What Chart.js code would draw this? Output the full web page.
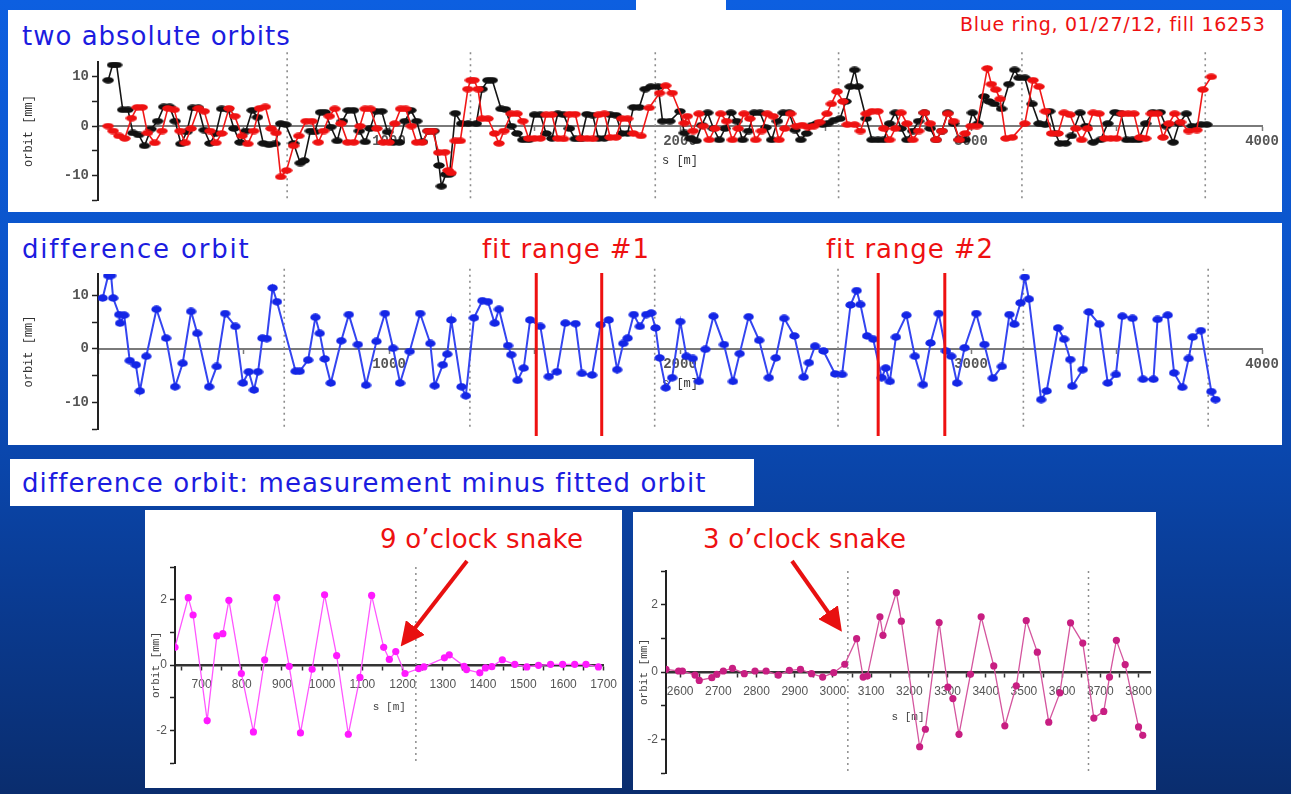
<!DOCTYPE html>
<html><head><meta charset="utf-8">
<script src="https://cdn.jsdelivr.net/npm/chart.js@4.4.1/dist/chart.umd.min.js"></script>
<style>
html,body{margin:0;padding:0;width:1291px;height:794px;overflow:hidden;}
body{position:relative;background:linear-gradient(to bottom,#0d5fe0 0%,#0b55cc 30%,#0a48b0 55%,#0a3b92 75%,#0a2d6e 100%);font-family:'Comic Sans MS','DejaVu Sans',sans-serif;}
.panel{position:absolute;background:#fff;}
.t{position:absolute;white-space:nowrap;line-height:1;}
canvas{position:absolute;}
svg{position:absolute;left:0;top:0;}
</style></head><body>
<div class="panel" style="left:636px;top:0;width:90px;height:12px;"></div>
<div class="panel" style="left:8px;top:10px;width:1274px;height:202px;"></div>
<div class="panel" style="left:8px;top:223px;width:1274px;height:222px;"></div>
<div class="panel" style="left:10px;top:459px;width:744px;height:47px;"></div>
<div class="panel" style="left:145px;top:510px;width:477px;height:278px;"></div>
<div class="panel" style="left:633px;top:512px;width:523px;height:278px;"></div>

<div class="t" style="left:22px;top:23px;font-size:26px;letter-spacing:1px;color:#1c1ce0;">two absolute orbits</div>
<div class="t" style="left:960px;top:15px;font-size:19px;letter-spacing:0.7px;color:#ee1111;">Blue ring, 01/27/12, fill 16253</div>
<div class="t" style="left:22px;top:236px;font-size:26px;letter-spacing:1.8px;color:#1c1ce0;">difference orbit</div>
<div class="t" style="left:482px;top:236px;font-size:26px;letter-spacing:0.9px;color:#ee1111;">fit range #1</div>
<div class="t" style="left:826px;top:236px;font-size:26px;letter-spacing:0.9px;color:#ee1111;">fit range #2</div>
<div class="t" style="left:22px;top:470px;font-size:26px;letter-spacing:1.1px;color:#1c1ce0;">difference orbit: measurement minus fitted orbit</div>
<div class="t" style="left:380px;top:526px;font-size:26px;letter-spacing:0.2px;color:#ee1111;">9 o’clock snake</div>
<div class="t" style="left:703px;top:526px;font-size:26px;letter-spacing:0.2px;color:#ee1111;">3 o’clock snake</div>

<canvas id="c1"></canvas>
<canvas id="c2"></canvas>
<canvas id="c3"></canvas>
<canvas id="c4"></canvas>

<svg width="1291" height="794">
<defs><marker id="ah" markerWidth="6" markerHeight="6" refX="3" refY="3" orient="auto" markerUnits="strokeWidth"><path d="M0,0 L6,3 L0,6 z" fill="#e81010"/></marker></defs>
<line x1="467" y1="561" x2="408" y2="637" stroke="#e81010" stroke-width="4" marker-end="url(#ah)"/>
<line x1="792" y1="561" x2="835" y2="622" stroke="#e81010" stroke-width="4" marker-end="url(#ah)"/>
</svg>

<script>
// ---------------- data (s [m], orbit [mm]) ----------------
const topBlack = [[35,9.3],[50,12.4],[64,12.4],[85,3.3],[103,3.3],[120,-1.4],[140,-1.8],[160,-4.0],[182,-0.6],[205,1.0],[226,3.9],[246,3.9],[265,1.0],[285,-3.6],[305,-1.2],[325,3.7],[345,3.7],[365,-0.8],[385,-3.5],[405,-1.5],[425,3.5],[447,3.4],[467,-0.5],[488,-3.3],[508,-1.0],[530,3.2],[548,1.8],[568,-3.5],[588,-3.8],[608,-3.6],[628,0.5],[645,0.3],
[672,-3.5],[695,-7.5],[708,-7.0],[730,-1.0],[745,-1.2],[765,2.8],[780,2.8],[800,-0.2],[822,-3.0],[840,1.0],[860,3.2],[878,3.2],[898,-1.0],[918,-3.2],[935,-0.5],[955,3.0],[975,3.0],[995,-1.2],[1015,-3.3],[1035,-3.3],[1055,1.0],[1075,3.2],[1095,1.0],[1115,-3.2],[1135,-1.0],[1155,-1.0],[1172,-8.0],[1180,-12.2],[1195,-9.8],[1208,-9.8],[1228,2.6],[1250,0.5],[1272,0.5],
[1300,0.5],[1320,7.5],[1340,9.3],[1355,9.3],[1385,3.5],[1400,3.4],[1420,0.0],[1440,-1.5],[1460,-2.8],[1480,-2.8],[1500,2.3],[1520,2.3],[1540,-1.5],[1560,-2.5],[1580,2.5],[1600,2.3],[1620,-0.5],[1640,-2.6],[1660,-2.6],[1680,2.4],[1700,2.2],[1720,-2.5],[1740,-2.5],[1760,2.3],[1780,2.2],[1800,-1.5],[1820,-1.5],[1840,3.8],[1860,3.8],[1880,7.5],[1900,8.0],
[1925,8.0],[1940,1.0],[1965,1.0],[2000,3.0],[2015,-1.4],[2035,-2.5],[2055,-3.0],[2075,0.2],[2095,2.7],[2115,-0.5],[2135,-2.8],[2155,-0.5],[2175,2.7],[2195,1.0],[2215,-2.8],[2235,-1.0],[2255,2.7],[2275,2.7],[2295,-0.3],[2315,-2.8],[2335,1.0],[2355,2.7],[2375,2.7],[2395,-0.8],[2415,-2.8],[2435,-1.5],[2455,0.2],[2470,0.5],[2490,0.3],[2510,0.6],[2530,1.2],
[2550,1.5],[2570,5.0],[2585,8.0],[2600,11.4],[2612,8.0],[2640,1.5],[2660,-2.8],[2680,-2.8],[2700,-2.8],[2720,0.5],[2740,2.7],[2760,-0.5],[2780,-2.8],[2800,-1.0],[2820,1.0],[2840,2.7],[2860,-0.5],[2880,-2.8],[2900,-1.0],[2920,2.7],[2940,0.5],[2960,-2.8],[2980,-2.8],[3005,2.7],[3025,0.5],[3045,6.0],[3062,5.0],[3080,4.5],[3105,3.5],[3130,8.5],[3150,11.4],[3165,9.8],[3185,9.8],[3210,4.5],[3234,0.5],
[3255,0.3],[3270,3.0],[3290,-1.5],[3305,-3.5],[3325,-3.5],[3345,-2.0],[3375,2.7],[3395,0.0],[3420,-3.3],[3445,-2.8],[3470,0.5],[3495,2.8],[3515,2.5],[3535,-2.8],[3555,-2.8],[3575,-2.8],[3600,0.5],[3625,2.8],[3650,2.8],[3670,0.0],[3695,-3.3],[3715,0.5],[3740,2.5],[3760,0.0],[3790,0.3],[3810,0.3]];

const topRed = [[35,0.0],[52,-1.0],[72,-2.0],[92,-2.5],[115,1.6],[135,3.8],[152,3.8],[170,-1.4],[195,-3.4],[220,-1.0],[240,3.6],[262,3.3],[282,-1.0],[300,-3.4],[320,-0.5],[345,3.6],[365,3.0],[385,-1.0],[405,-3.4],[425,-1.5],[450,3.6],[470,2.0],[495,-2.0],[515,-3.6],[535,-1.0],[555,3.6],[575,3.9],[595,-0.5],[612,-1.4],[628,-10.3],[648,-9.0],[672,-4.0],[690,-2.0],[715,1.0],
[735,1.0],[757,-3.3],[775,-1.0],[795,2.0],[814,3.5],[835,0.5],[858,-3.3],[879,-3.3],[900,0.0],[918,3.5],[936,3.5],[958,-0.5],[980,-3.3],[1000,-3.3],[1020,0.5],[1040,3.5],[1057,3.5],[1077,0.0],[1095,-3.3],[1114,-3.3],[1135,-1.0],[1150,-1.0],[1171,-5.4],[1192,-5.3],[1203,-9.0],[1213,-9.5],[1228,-3.0],[1245,-3.0],[1271,7.5],[1280,9.3],[1292,9.3],[1306,7.5],[1320,1.5],[1340,1.5],[1363,-1.5],[1378,-3.5],[1395,-1.0],[1420,2.5],
[1440,2.5],[1460,1.0],[1480,-2.5],[1500,-2.5],[1520,-2.5],[1540,2.3],[1560,2.3],[1580,-2.5],[1600,-2.6],[1620,2.4],[1640,2.4],[1660,-2.5],[1680,-2.5],[1700,-2.6],[1720,2.3],[1740,2.5],[1760,-2.3],[1780,-2.3],[1800,1.5],[1820,1.5],[1840,-1.5],[1866,-2.0],[1894,3.7],[1930,6.7],[1951,8.2],[1973,6.7],[2015,0.6],
[2025,2.0],[2045,-1.0],[2065,2.5],[2080,0.0],[2100,-2.8],[2120,-0.5],[2140,2.5],[2160,1.0],[2180,-2.8],[2200,-0.5],[2220,2.5],[2240,1.5],[2260,-2.8],[2280,-1.0],[2300,2.5],[2320,2.0],[2340,-2.8],[2360,-0.5],[2380,2.5],[2400,0.0],[2420,0.2],[2440,-0.2],[2460,0.0],[2480,0.8],[2505,2.5],[2520,4.5],[2540,7.0],[2560,5.0],[2575,0.3],[2600,0.3],[2620,-1.0],
[2640,2.5],[2660,3.0],[2680,3.0],[2700,-0.5],[2720,-2.8],[2740,-0.5],[2760,2.7],[2780,0.5],[2800,-2.8],[2820,-1.0],[2840,2.7],[2860,0.5],[2880,-2.8],[2900,-1.0],[2920,2.5],[2940,1.0],[2960,-2.8],[2980,-1.5],[3000,0.0],[3020,0.0],[3056,11.7],[3070,8.5],[3085,7.4],[3100,5.5],[3120,-2.5],[3142,-2.3],[3185,0.5],[3213,9.3],[3234,8.0],[3256,3.0],[3277,-1.5],[3299,-1.5],
[3320,2.7],[3340,2.3],[3360,-0.5],[3380,-2.8],[3400,-0.5],[3420,2.7],[3440,2.5],[3460,-2.5],[3480,-2.5],[3500,-2.5],[3520,2.5],[3540,2.5],[3560,2.5],[3580,-2.3],[3600,-2.5],[3620,2.5],[3640,2.5],[3660,-2.3],[3680,0.5],[3700,2.5],[3720,0.8],[3748,-1.0],[3776,-0.8],[3797,7.4],[3826,10.0]];

const diffOrbit = [[16,9.5],[35,13.7],[45,13.7],[52,9.5],[73,6.4],[76,4.8],[90,6.3],[109,-2.2],[130,-3.0],[144,-7.9],[166,-1.4],[201,7.4],[234,2.0],[265,-7.1],[291,-2.7],[320,7.0],[341,2.9],[382,-7.1],[408,-3.3],[437,6.6],[472,4.2],[498,-6.4],[518,-4.3],[536,-7.7],[550,-4.3],[565,2.0],[580,1.9],[600,11.4],[615,8.8],[679,-4.2],[693,-4.2],[722,-2.1],[747,5.9],[762,2.9],[779,-1.9],[800,-6.4],[836,1.5],[862,6.4],[893,0.8],[921,-6.8],[957,1.4],[986,6.6],[1014,0.1],[1038,-6.4],[1071,-0.5],[1107,6.6],[1142,1.0],[1157,-6.9],[1185,-3.0],[1200,-1.0],[1214,5.4],[1249,-7.1],[1264,-8.8],[1292,5.8],[1321,9.0],[1340,8.8],[1363,4.8],[1378,7.4],[1409,0.6],[1420,-1.1],[1442,-5.9],[1463,-3.6],[1485,5.4],[1520,4.2],[1549,-5.2],[1577,-4.3],[1606,4.8],[1641,4.7],[1663,-4.6],[1698,-4.9],[1727,4.5],[1755,5.4],[1784,-3.9],[1805,1.0],[1820,2.0],[1841,6.4],[1862,4.2],[1884,6.4],
[1901,6.7],[1916,3.9],[1930,-1.7],[1951,-7.3],[1973,-5.4],[2001,5.1],[2022,-1.4],[2044,-1.8],[2065,-6.1],[2087,-0.1],[2115,6.1],[2151,0.8],[2182,-6.1],[2205,-0.9],[2236,6.0],[2272,1.6],[2305,-5.4],[2329,-1.7],[2358,5.7],[2393,2.4],[2425,-5.3],[2443,-2.6],[2464,0.5],[2493,-0.4],[2533,-4.7],[2557,-4.8],[2586,8.2],[2607,10.9],[2620,8.3],[2643,2.4],[2664,1.8],[2693,-5.4],[2707,-3.6],[2721,-6.1],[2742,2.2],[2778,6.3],[2807,-1.4],[2835,-6.7],[2861,1.1],[2889,6.6],[2914,-0.4],[2932,-1.4],[2952,-6.4],[2978,0.2],[3018,6.6],[3046,0.8],[3075,-5.5],[3106,-3.3],[3132,6.4],[3149,4.6],[3170,8.6],[3185,13.4],[3199,9.3],[3241,-9.5],[3260,-7.9],[3299,3.9],[3320,1.8],[3341,-2.0],[3348,-7.0],[3384,-3.9],[3405,6.9],[3441,4.6],[3470,-6.4],[3498,-4.8],[3520,6.1],[3555,5.7],[3591,-5.7],[3627,-5.7],[3641,5.5],[3676,6.3],[3698,-4.5],[3726,-7.2],[3748,-1.8],[3762,2.2],[3790,3.4],[3826,-8.0],[3840,-9.5]];

const snake9 = [[634,0.54],[667,2.06],[679,1.53],[714,-1.7],[738,0.89],[753,0.96],[768,1.98],[799,-0.26],[829,-2.05],[857,0.16],[887,2.06],[918,-0.04],[946,-2.08],[975,-0.13],[1006,2.15],[1036,0.29],[1065,-2.12],[1094,-0.38],[1123,2.13],[1153,0.54],[1167,0.17],[1183,0.41],[1206,-0.26],[1240,-0.11],[1253,-0.06],[1304,0.22],[1316,0.31],[1353,-0.04],[1359,-0.14],[1392,-0.24],[1406,-0.09],[1422,-0.05],[1448,0.16],[1479,0.02],[1509,-0.06],[1538,-0.01],[1568,0.02],[1598,0.02],[1628,0.02],[1656,0.02],[1687,-0.06]];

const snake3 = [[2563,0.08],[2596,0.03],[2606,0.03],[2639,-0.09],[2650,-0.25],[2683,-0.17],[2696,-0.07],[2713,0.03],[2737,0.11],[2768,-0.05],[2796,0.03],[2825,0.03],[2857,-0.09],[2886,0.05],[2915,0.08],[2944,-0.05],[2973,-0.15],[3002,-0.02],[3031,0.23],[3062,0.99],[3079,-0.15],[3090,-0.12],[3123,1.64],[3131,1.09],[3166,2.36],[3179,1.51],[3227,-2.22],[3242,-1.7],[3278,1.47],[3301,-0.45],[3314,-0.79],[3330,-1.85],[3360,-0.07],[3388,1.64],[3421,0.18],[3450,-1.6],[3480,-0.41],[3506,1.53],[3535,0.59],[3565,-1.49],[3594,-0.62],[3622,1.46],[3654,0.86],[3683,-1.37],[3709,-1.17],[3724,-0.15],[3742,0.94],[3765,0.22],[3800,-1.63],[3811,-1.88]];

const topIR = [650, 1280, 1915, 2545, 3175, 3805];
const midIR = [640, 1278, 1913, 2543, 3180, 3815];
const fitRangeEdges = [1506, 1731, 2681, 2910];
const snake9IR = [1233];
const snake3IR = [3039, 3669];
const ringTicks = [1000, 2000, 3000, 4000];
const orbitTicks = [-10, 0, 10];
const snakeOrbitTicks = [-2, 0, 2];
const snake9Ticks = [700, 800, 900, 1000, 1100, 1200, 1300, 1400, 1500, 1600, 1700];
const snake3Ticks = [2600, 2700, 2800, 2900, 3000, 3100, 3200, 3300, 3400, 3500, 3600, 3700, 3800];

// ---------------- helpers ----------------
const MONO = "'Liberation Mono','DejaVu Sans Mono',monospace";
const NARROW = "'Liberation Sans Narrow','Liberation Sans',sans-serif";
function ellipse(color, w, h) {
  const c = document.createElement('canvas'); c.width = w; c.height = h;
  const g = c.getContext('2d'); g.fillStyle = color; g.beginPath();
  g.ellipse(w / 2, h / 2, w / 2 - 0.3, h / 2 - 0.3, 0, 0, Math.PI * 2); g.fill(); return c;
}
const pts = a => a.map(p => ({ x: p[0], y: p[1] }));
function vlines(list, y0, y1, color, width, dash, order) {
  return list.map(s => ({ data: [{ x: s, y: y0 }, { x: s, y: y1 }], borderColor: color, borderWidth: width,
    borderDash: dash, pointRadius: 0, clip: false, order: order, tension: 0 }));
}
function place(id, left, top, w, h) {
  const c = document.getElementById(id); c.width = w; c.height = h;
  c.style.left = left + 'px'; c.style.top = top + 'px'; c.style.width = w + 'px'; c.style.height = h + 'px';
  return c;
}
function makeChart(id, box, datasets, sc) {
  const c = place(id, box.left, box.top, box.w, box.h);
  return new Chart(c, {
    type: 'line',
    data: { datasets },
    options: {
      responsive: false, animation: false, events: [],
      layout: { padding: box.pad },
      plugins: { legend: { display: false }, tooltip: { enabled: false } },
      scales: {
        x: {
          type: 'linear', min: sc.xmin, max: sc.xmax, position: { y: 0 },
          afterFit: s => { s.height = sc.xh; },
          border: { color: sc.xAxisColor, width: sc.xAxisWidth },
          grid: { drawOnChartArea: false, drawTicks: true, tickLength: sc.xTickLen, tickColor: sc.xAxisColor, tickWidth: 1.5 },
          ticks: { stepSize: sc.xStep, autoSkip: false, maxRotation: 0, includeBounds: false, padding: sc.xPad,
            callback: v => sc.xLabels.includes(v) ? String(v) : '',
            font: sc.tickFont, color: sc.tickColor },
          title: { display: true, text: 's [m]', font: sc.titleFont, color: sc.titleColor, padding: { top: 0, bottom: 4 } }
        },
        y: {
          type: 'linear', min: sc.ymin, max: sc.ymax, position: 'left',
          afterFit: s => { s.width = sc.yw; },
          border: { color: '#222', width: 2 },
          grid: { drawOnChartArea: false, drawTicks: true, tickLength: sc.yTickLen, tickColor: '#222', tickWidth: 1.5 },
          ticks: { stepSize: sc.yStep, includeBounds: false, padding: 3,
            callback: v => sc.yLabels.includes(v) ? String(v) : '',
            font: sc.tickFont, color: sc.tickColor },
          title: { display: true, text: 'orbit [mm]', font: sc.titleFont, color: sc.titleColor, padding: { top: 4, bottom: 2 } }
        }
      }
    }
  });
}

// ---------------- chart 1: two absolute orbits ----------------
makeChart('c1', { left: 18, top: 40, w: 1272, h: 172, pad: { left: 0, top: 22, right: 28, bottom: 12 } }, [
  { data: pts(topRed), borderColor: '#f01818', borderWidth: 1.6, pointStyle: ellipse('#ee1111', 12, 7), pointRadius: 4, tension: 0, order: 0 },
  { data: pts(topBlack), borderColor: '#151515', borderWidth: 1.6, pointStyle: ellipse('#111111', 12, 7), pointRadius: 4, tension: 0, order: 1 },
  ...vlines(topIR, 15, -15, '#8c8c8c', 1.6, [2, 4], 5)
], { xmin: 0, xmax: 4000, xStep: 500, xLabels: ringTicks, xh: 46, xAxisColor: '#7a7a7a', xAxisWidth: 2, xTickLen: 4, xPad: 3,
     ymin: -15, ymax: 13, yStep: 5, yLabels: orbitTicks, yw: 80, yTickLen: 6,
     tickFont: { family: MONO, size: 14, weight: 'bold' }, tickColor: '#555',
     titleFont: { family: MONO, size: 12 }, titleColor: '#333' });

// ---------------- chart 2: difference orbit ----------------
makeChart('c2', { left: 18, top: 252, w: 1272, h: 189, pad: { left: 0, top: 22, right: 28, bottom: 12 } }, [
  ...vlines(fitRangeEdges, 14.2, -16.3, '#ee1111', 3, [], -1),
  { data: pts(diffOrbit), borderColor: '#3445f0', borderWidth: 2, pointStyle: ellipse('#1426e6', 11, 8), pointRadius: 4, tension: 0, order: 0 },
  ...vlines(midIR, 15, -15, '#8c8c8c', 1.6, [2, 4], 5)
], { xmin: 0, xmax: 4000, xStep: 500, xLabels: ringTicks, xh: 46, xAxisColor: '#7a7a7a', xAxisWidth: 2, xTickLen: 4, xPad: 3,
     ymin: -15, ymax: 14, yStep: 5, yLabels: orbitTicks, yw: 80, yTickLen: 6,
     tickFont: { family: MONO, size: 14, weight: 'bold' }, tickColor: '#555',
     titleFont: { family: MONO, size: 12 }, titleColor: '#333' });

// ---------------- chart 3: 9 o'clock snake ----------------
makeChart('c3', { left: 145, top: 550, w: 480, h: 225, pad: { left: 0, top: 17, right: 12, bottom: 12 } }, [
  { data: pts(snake9), borderColor: '#ff55ff', borderWidth: 1.3, pointBackgroundColor: '#ff1aff', pointBorderWidth: 0, pointRadius: 3.6, tension: 0, order: 0 },
  ...vlines(snake9IR, 3, -3, '#8c8c8c', 1.5, [2, 4], 5)
], { xmin: 634, xmax: 1700, xStep: 50, xLabels: snake9Ticks, xh: 53, xAxisColor: '#333', xAxisWidth: 2.5, xTickLen: 4, xPad: 8,
     ymin: -3, ymax: 3, yStep: 1, yLabels: snakeOrbitTicks, yw: 30, yTickLen: 5,
     tickFont: { family: NARROW, size: 12 }, tickColor: '#555',
     titleFont: { family: MONO, size: 11 }, titleColor: '#444' });

// ---------------- chart 4: 3 o'clock snake ----------------
makeChart('c4', { left: 633, top: 555, w: 532, h: 230, pad: { left: 0, top: 16, right: 15, bottom: 12 } }, [
  { data: pts(snake3), borderColor: '#d4559e', borderWidth: 1.3, pointBackgroundColor: '#c81e82', pointBorderWidth: 0, pointRadius: 3.6, tension: 0, order: 0 },
  ...vlines(snake3IR, 3, -3, '#8c8c8c', 1.5, [2, 4], 5)
], { xmin: 2563, xmax: 3830, xStep: 50, xLabels: snake3Ticks, xh: 56, xAxisColor: '#333', xAxisWidth: 2.5, xTickLen: 4, xPad: 8,
     ymin: -3, ymax: 3, yStep: 1, yLabels: snakeOrbitTicks, yw: 33, yTickLen: 5,
     tickFont: { family: NARROW, size: 12 }, tickColor: '#555',
     titleFont: { family: MONO, size: 11 }, titleColor: '#444' });
</script>
</body></html>
